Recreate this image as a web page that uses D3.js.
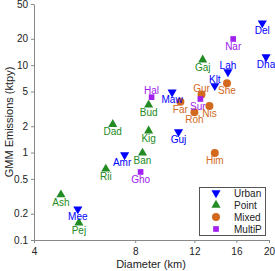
<!DOCTYPE html>
<html><head><meta charset="utf-8">
<script src="https://cdn.jsdelivr.net/npm/d3@7"></script>
<style>
body{margin:0;background:#fff;}
svg{display:block;font-family:"Liberation Sans",Arial,sans-serif;}
</style></head><body>
<svg id="c" width="275" height="271"></svg>
<script>
const names    = ["Del","Nar","Dha","Lah","Gaj","Klt","She","Gur","Hal","Maw","Sur","Far","Nis","Roh","Bud","Dad","Kig","Guj","Amr","Ban","Gho","Him","Rii","Ash","Mee","Pej"];
const types    = ["Urban","MultiP","Urban","Urban","Point","Urban","Mixed","Mixed","MultiP","Urban","MultiP","Mixed","Mixed","Mixed","Point","Point","Point","Urban","Urban","Point","MultiP","Mixed","Point","Point","Urban","Point"];
const diameter = [19.1,15.65,19.6,15.1,12.7,13.8,15.0,12.6,8.95,10.3,12.5,10.9,13.3,12.0,8.77,6.86,8.77,10.76,7.44,8.41,8.30,13.8,6.54,4.81,5.40,5.44];
const emission = [30.3,19.9,12.4,8.35,11.5,5.8,6.2,4.6,4.3,4.9,4.1,3.8,3.4,2.9,3.5,2.1,1.77,1.72,0.94,0.99,0.60,0.99,0.65,0.33,0.226,0.157];
const labelAbove = ["Lah","Klt","Hal","Gur"];
const labelLeft  = ["Sur","Amr"];
const xTicks = [4,8,12,16,20];
const yTicks = [0.1,0.2,0.5,1,2,5,10,20,50];
const legendTypes = ["Urban","Point","Mixed","MultiP"];
const colors = {Urban:"#0000ff",Point:"#228b22",Mixed:"#d2691e",MultiP:"#a020f0"};

const svg = d3.select("#c");
const x = d3.scaleLog().domain([4,20]).range([34,269]);
const y = d3.scaleLog().domain([0.1,50]).range([240,4]);

const fmt = d => String(d);
const xa = svg.append("g").attr("transform","translate(0,240)")
  .call(d3.axisBottom(x).tickValues(xTicks).tickFormat(fmt).tickSize(3).tickSizeOuter(0));
const ya = svg.append("g").attr("transform","translate(34,0)")
  .call(d3.axisLeft(y).tickValues(yTicks).tickFormat(fmt).tickSize(3).tickSizeOuter(0));
[xa,ya].forEach(a=>{
  a.select(".domain").attr("stroke","#888");
  a.selectAll(".tick line").attr("stroke","#888");
  a.selectAll(".tick text").attr("fill","#222").style("font-size","10px")
   .style("font-family","'Liberation Sans',Arial,sans-serif");
});
xa.selectAll(".tick text").attr("dy","0.85em");

svg.append("text").attr("x",151).attr("y",268).attr("text-anchor","middle")
  .style("font-size","11px").attr("fill","#222").text("Diameter (km)");
svg.append("text").attr("transform","translate(13,122) rotate(-90)").attr("text-anchor","middle")
  .style("font-size","11px").attr("fill","#222").text("GMM Emissions (ktpy)");

const sym = {
  Urban: d3.symbol().type(d3.symbolTriangle).size(36),
  Point: d3.symbol().type(d3.symbolTriangle).size(36),
  Mixed: d3.symbol().type(d3.symbolCircle).size(50),
  MultiP: d3.symbol().type(d3.symbolSquare).size(32)
};
function marker(g, t, cx, cy){
  g.append("path").attr("d", sym[t]())
   .attr("transform", `translate(${cx},${cy})` + (t==="Urban" ? " rotate(180)" : ""))
   .attr("fill", colors[t]);
}

const data = names.map((n,i)=>({n, t:types[i], d:diameter[i], e:emission[i]}));
const pts = svg.append("g");
data.forEach(p=>{
  marker(pts, p.t, x(p.d), y(p.e));
});
const labs = svg.append("g");
data.forEach(p=>{
  const cx = x(p.d), cy = y(p.e);
  const above = labelAbove.includes(p.n);
  const shift = labelLeft.includes(p.n) ? -2.5 : 0;
  labs.append("text").attr("x", cx + shift).attr("y", above ? cy-3 : cy+11)
    .attr("text-anchor","middle").style("font-size","10px")
    .attr("fill", colors[p.t]).text(p.n);
});

const lg = svg.append("g");
lg.append("rect").attr("x",199.5).attr("y",187.5).attr("width",66).attr("height",48)
  .attr("fill","#fff").attr("stroke","#555").attr("stroke-width",1);
legendTypes.forEach((t,i)=>{
  const yy = 193 + i*12;
  marker(lg, t, 216, yy);
  lg.append("text").attr("x",234).attr("y",yy+3.5).style("font-size","10px")
    .attr("fill","#222").text(t);
});
</script>
</body></html>
